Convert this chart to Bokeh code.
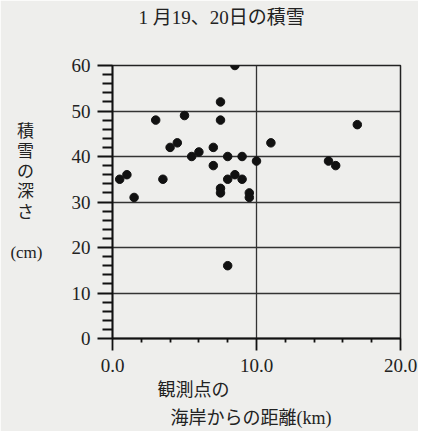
from bokeh.plotting import figure
from bokeh.models import Range1d, FixedTicker, ColumnDataSource, Title
from bokeh.embed import file_html
from bokeh.resources import INLINE

# Data: distance from coast (km) vs snow depth (cm)
distance_km = [0.5, 1.0, 1.5, 3.0, 3.5, 4.0, 4.5, 5.0, 5.5, 6.0,
               7.0, 7.0, 7.5, 7.5, 7.5, 7.5, 8.0, 8.0, 8.0, 8.5,
               8.5, 9.0, 9.0, 9.5, 9.5, 10.0, 11.0, 15.0, 15.5, 17.0]
snow_cm = [35, 36, 31, 48, 35, 42, 43, 49, 40, 41,
           42, 38, 52, 48, 33, 32, 40, 35, 16, 36,
           60, 40, 35, 32, 31, 39, 43, 39, 38, 47]

x_ticks = [0, 10, 20]
x_tick_labels = ["0.0", "10.0", "20.0"]
x_minor = [2, 4, 6, 8, 12, 14, 16, 18]
y_ticks = [0, 10, 20, 30, 40, 50, 60]
y_minor = [v for v in range(0, 61, 2) if v % 10 != 0]
grid_y = [10, 20, 30, 40, 50]
grid_x = [10]

title_text = "1 月19、20日の積雪"
ylabel_chars = ["積", "雪", "の", "深", "さ"]
ylabel_unit = "(cm)"
xlabel_line1 = "観測点の"
xlabel_line2 = "海岸からの距離(km)"

NB = "\u00a0\u00a0"
ylabel_text = "\n" + "\n".join(c + NB for c in ylabel_chars) + "\n\n" + ylabel_unit + "\n\n"

BG = "#eeeeec"
SERIF = "Liberation Serif"
MIX = "Liberation Serif, Noto Sans CJK JP"
TXT = "#222222"

p = figure(width=418, height=431, output_backend="svg", toolbar_location=None,
           x_range=Range1d(0, 20), y_range=Range1d(0, 60),
           min_border_left=112, min_border_right=18,
           min_border_top=0, min_border_bottom=90)
p.background_fill_color = BG
p.border_fill_color = BG
p.outline_line_color = "#222222"
p.outline_line_width = 1.5

src = ColumnDataSource(dict(x=distance_km, y=snow_cm))
p.scatter("x", "y", source=src, size=8.5, color="#111111")

# title (trailing blank line reserves the gap above the frame)
p.title.text = title_text + "\n"
p.title.align = "left"
p.title.offset = 26
p.title.vertical_align = "top"
p.title.standoff = 12
p.title.text_font = MIX
p.title.text_font_size = "19px"
p.title.text_font_style = "normal"
p.title.text_color = TXT
p.title.text_line_height = 1.45

# axes
for a in (p.xaxis[0], p.yaxis[0]):
    a.axis_line_width = 1.8
    a.axis_line_color = "#111111"
    a.major_tick_line_width = 1.8
    a.minor_tick_line_width = 1.8
    a.major_tick_line_color = "#111111"
    a.minor_tick_line_color = "#111111"

xa = p.xaxis[0]
xa.ticker = FixedTicker(ticks=x_ticks, minor_ticks=x_minor)
xa.major_label_overrides = {t: l for t, l in zip(x_ticks, x_tick_labels)}
xa.major_tick_out = 12
xa.major_tick_in = 0
xa.minor_tick_out = 4
xa.minor_tick_in = 0
xa.major_label_standoff = 8
xa.major_label_text_font = SERIF
xa.major_label_text_font_size = "19px"
xa.major_label_text_color = TXT

ya = p.yaxis[0]
ya.ticker = FixedTicker(ticks=y_ticks, minor_ticks=y_minor)
ya.major_tick_out = 15
ya.major_tick_in = 0
ya.minor_tick_out = 10
ya.minor_tick_in = 0
ya.major_label_standoff = 7
ya.major_label_text_font = SERIF
ya.major_label_text_font_size = "19px"
ya.major_label_text_color = TXT
ya.axis_label = ylabel_text
ya.axis_label_orientation = "horizontal"
ya.axis_label_text_font = MIX
ya.axis_label_text_font_size = "17px"
ya.axis_label_text_font_style = "normal"
ya.axis_label_text_color = TXT
ya.axis_label_text_line_height = 1.06
ya.axis_label_standoff = 26

# x label as two lines below
t1 = Title(text=xlabel_line1, align="left", offset=45, standoff=6,
           text_font=MIX, text_font_size="18px", text_font_style="normal",
           text_color=TXT)
t2 = Title(text=xlabel_line2, align="left", offset=58, standoff=7,
           text_font=MIX, text_font_size="18px", text_font_style="normal",
           text_color=TXT)
p.add_layout(t1, "below")
p.add_layout(t2, "below")

# grid
p.xgrid.ticker = FixedTicker(ticks=grid_x)
p.ygrid.ticker = FixedTicker(ticks=grid_y)
for g in (p.xgrid[0], p.ygrid[0]):
    g.grid_line_color = "#333333"
    g.grid_line_width = 1.3

open("out.html", "w").write(file_html(p, INLINE))
